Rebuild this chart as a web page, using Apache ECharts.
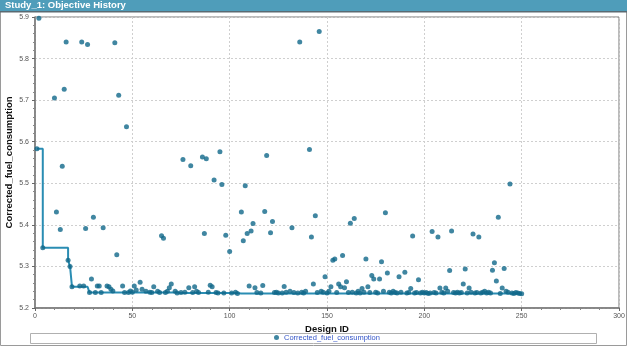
<!DOCTYPE html>
<html><head><meta charset="utf-8">
<script src="https://cdn.jsdelivr.net/npm/echarts@6/dist/echarts.min.js"></script>
<style>html,body{margin:0;padding:0;background:#fff}#c{width:627px;height:346px}</style>
</head><body><div id="c"></div>
<script>
const designIds = [1,2,4,10,11,13,14,15,16,17,18,19,
23,24,25,26,27,28,29,30,31,32,33,34,35,37,38,39,40,41,42,43,45,46,47,48,49,50,
51,52,54,55,57,59,60,61,63,64,65,66,67,68,69,70,72,73,75,76,77,79,80,
81,82,83,84,86,87,88,89,90,91,92,93,94,95,96,97,98,100,
101,103,104,106,107,108,109,110,111,112,113,114,116,117,118,119,121,122,123,124,125,127,128,129,131,132,133,135,136,137,138,139,141,142,143,144,145,146,147,148,149,150,
151,152,153,154,155,156,157,158,159,160,161,162,163,164,165,166,167,168,169,170,171,172,173,174,175,176,177,178,179,180,181,182,183,184,185,186,187,188,190,191,192,193,194,195,196,197,198,199,200,
201,202,203,204,205,206,207,208,209,210,211,212,213,214,215,216,217,218,219,220,221,222,223,224,225,226,227,228,229,230,231,232,233,234,235,236,237,238,239,240,241,242,243,244,245,246,247,248,249,250];
const fuelValues = [5.583,5.897,5.345,5.705,5.431,5.389,5.541,5.726,5.840,5.315,5.300,5.251,
5.253,5.840,5.253,5.391,5.834,5.237,5.270,5.418,5.237,5.253,5.253,5.237,5.393,5.253,5.251,5.245,5.241,5.838,5.328,5.712,5.253,5.237,5.636,5.237,5.241,5.238,
5.253,5.243,5.262,5.245,5.240,5.238,5.237,5.251,5.240,5.237,5.374,5.368,5.237,5.240,5.249,5.258,5.240,5.236,5.237,5.557,5.238,5.249,5.542,
5.237,5.251,5.240,5.237,5.563,5.379,5.559,5.238,5.255,5.251,5.508,5.237,5.236,5.576,5.497,5.236,5.375,5.336,
5.236,5.238,5.235,5.431,5.362,5.494,5.379,5.253,5.385,5.403,5.249,5.237,5.236,5.254,5.432,5.567,5.381,5.408,5.237,5.238,5.236,5.236,5.252,5.238,5.240,5.393,5.237,5.236,5.840,5.238,5.236,5.240,5.581,5.371,5.258,5.422,5.237,5.865,5.240,5.238,5.275,5.236,
5.240,5.251,5.315,5.318,5.237,5.258,5.251,5.326,5.249,5.263,5.237,5.404,5.238,5.415,5.236,5.240,5.236,5.247,5.238,5.318,5.251,5.237,5.278,5.270,5.238,5.236,5.270,5.311,5.240,5.429,5.284,5.238,5.236,5.240,5.237,5.236,5.275,5.238,5.286,5.236,5.237,5.247,5.373,5.236,5.237,5.268,5.236,5.238,5.236,
5.237,5.235,5.236,5.384,5.237,5.236,5.371,5.248,5.238,5.236,5.248,5.240,5.290,5.385,5.237,5.236,5.238,5.236,5.237,5.258,5.294,5.236,5.248,5.238,5.378,5.236,5.237,5.371,5.236,5.238,5.240,5.236,5.238,5.236,5.291,5.309,5.265,5.418,5.235,5.248,5.295,5.240,5.238,5.498,5.236,5.235,5.237,5.236,5.235,5.234];
const seriesName = 'Corrected_fuel_consumption';
const titleText = 'Study_1: Objective History';
const xName = 'Design ID';

const points = designIds.map((id, i) => [id, fuelValues[i]]);
let best = Infinity;
const bestSoFar = points.map(([id, v]) => { best = Math.min(best, v); return [id, best]; });

const chart = echarts.init(document.getElementById('c'), null, {renderer: 'canvas'});
const font = 'Liberation Sans, Arial, sans-serif';
chart.setOption({
  animation: false,
  backgroundColor: '#fff',
  textStyle: {fontFamily: font},
  graphic: [
    {type: 'rect', shape: {x: 0.5, y: 0.5, width: 626, height: 345}, style: {fill: 'none', stroke: '#9a9a9a', lineWidth: 1}, silent: true, z: -1},
    {type: 'rect', shape: {x: 0, y: 0, width: 627, height: 11}, style: {fill: '#4f9dba'}, silent: true},
    {type: 'rect', shape: {x: 0, y: 11, width: 627, height: 1.5}, style: {fill: '#5a6a72'}, silent: true},
    {type: 'text', x: 5, y: 5.5, style: {text: titleText, fill: '#fff', font: 'bold 9.5px ' + font, textVerticalAlign: 'middle'}, silent: true},
    {type: 'rect', shape: {x: 30.5, y: 333.5, width: 566, height: 10}, style: {fill: '#fff', stroke: '#b0b0b0', lineWidth: 1}, silent: true, z: 0}
  ],
  legend: {
    data: [seriesName], left: 274, top: 333.5, padding: 0,
    itemWidth: 5, itemHeight: 5, itemGap: 4, icon: 'circle',
    textStyle: {color: '#3556c8', fontSize: 7.5, fontFamily: font, padding: [1, 0, 0, 0]},
    z: 10
  },
  grid: {left: 35, right: 8, top: 17, bottom: 38, show: true, borderColor: '#777', borderWidth: 1, containLabel: false, outerBoundsMode: 'none'},
  xAxis: {
    type: 'value', min: 0, max: 300, interval: 50,
    name: xName, nameLocation: 'middle', nameGap: 16, nameMoveOverlap: false,
    nameTextStyle: {fontWeight: 'bold', fontSize: 9.5, color: '#111', fontFamily: font},
    axisLine: {show: true, lineStyle: {color: '#777', width: 1.5}},
    axisTick: {show: true, length: 3, lineStyle: {color: '#666'}},
    minorTick: {show: true, splitNumber: 5, length: 2, lineStyle: {color: '#888'}},
    axisLabel: {fontSize: 7, color: '#555', margin: 5, fontFamily: font},
    splitLine: {show: true, lineStyle: {color: '#cfcfcf', type: [2, 2], width: 1}}
  },
  yAxis: {
    type: 'value', min: 5.2, max: 5.9, interval: 0.1,
    name: seriesName, nameLocation: 'middle', nameGap: 21, nameMoveOverlap: false,
    nameTextStyle: {fontWeight: 'bold', fontSize: 9.5, color: '#111', fontFamily: font},
    axisLine: {show: true, lineStyle: {color: '#777', width: 1.5}},
    axisTick: {show: true, length: 3, lineStyle: {color: '#666'}},
    minorTick: {show: true, splitNumber: 5, length: 2, lineStyle: {color: '#888'}},
    axisLabel: {fontSize: 7, color: '#555', margin: 6, fontFamily: font, formatter: v => v.toFixed(1)},
    splitLine: {show: true, lineStyle: {color: '#cfcfcf', type: [2, 2], width: 1}}
  },
  series: [
    {
      name: 'best', type: 'line', step: 'end', data: bestSoFar,
      symbol: 'none', lineStyle: {color: '#2a8db3', width: 2}, z: 2, silent: true
    },
    {
      name: seriesName, type: 'scatter', data: points,
      symbol: 'circle', symbolSize: 5,
      itemStyle: {color: '#10688a'}, z: 3
    }
  ]
});
</script></body></html>
